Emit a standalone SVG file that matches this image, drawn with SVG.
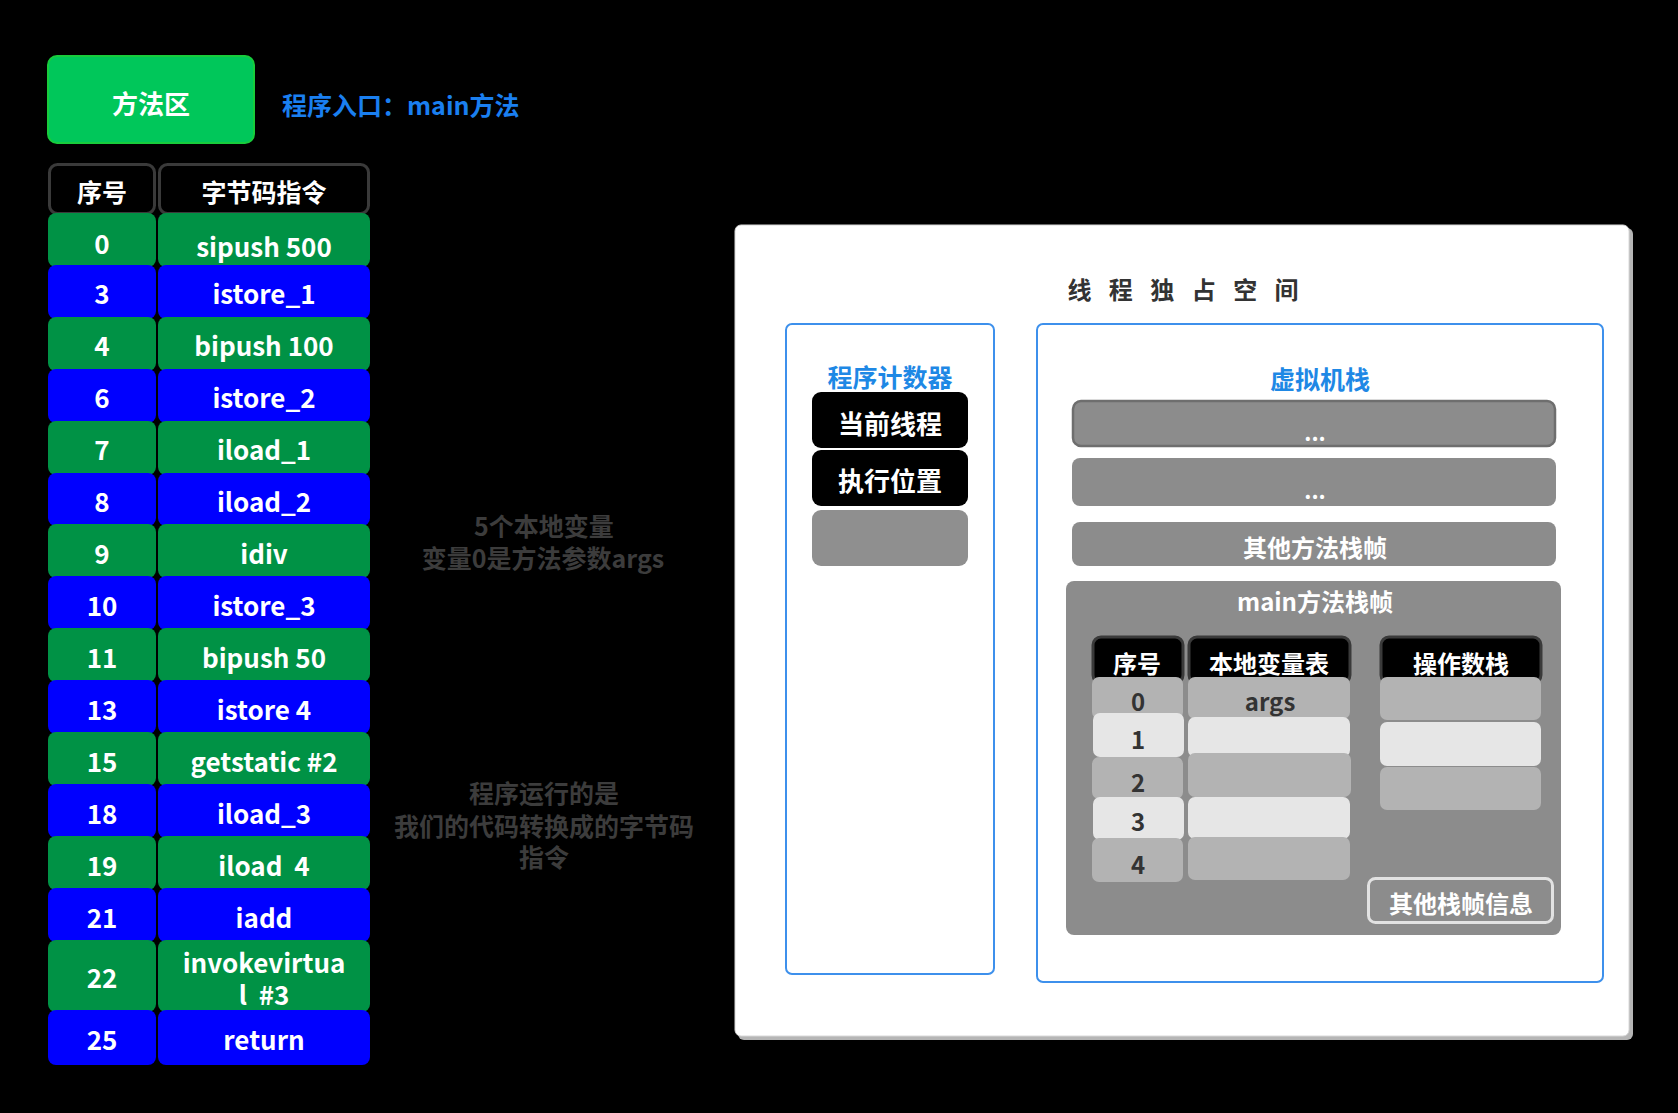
<svg xmlns="http://www.w3.org/2000/svg" width="1678" height="1113" viewBox="0 0 1678 1113">
<style>
.t{font-family:"Noto Sans CJK SC","Microsoft YaHei","Liberation Sans",sans-serif;font-weight:700;text-anchor:middle;dominant-baseline:central}
.w{fill:#ffffff}
.d{fill:#333333}
.tb{font-size:26px}
.g{fill:#009245}
.b{fill:#0000ff}
.hdr{fill:#000000;stroke:#3a3a3a;stroke-width:3}
.blue{fill:#1e88e5}
.frame{fill:#ffffff;stroke:#3d90ec;stroke-width:2}
.lg{fill:#b3b3b3}
.ll{fill:#e6e6e6}
.note{fill:#3c3c3c;font-size:25px}
</style>
<rect width="1678" height="1113" fill="#000"/>

<g id="method-area">
<rect x="48" y="56" width="206" height="87" rx="9" fill="#00c75a" stroke="#18cc3c" stroke-width="2"/>
<text class="t w" x="151" y="102" font-size="26">方法区</text>
</g>
<g id="entry-label">
<text class="t" x="282" y="104" font-size="25" fill="#1a7ff0" style="text-anchor:start">程序入口：main方法</text>
</g>

<g id="bytecode-table">
<g id="hdr-index"><rect class="hdr" x="49.5" y="164.5" width="105" height="49" rx="8"/><text class="t w" x="102" y="191" font-size="25">序号</text></g>
<g id="hdr-instr"><rect class="hdr" x="159.5" y="164.5" width="209" height="49" rx="8"/><text class="t w" x="264" y="191" font-size="25">字节码指令</text></g>

<g id="row-0"><rect class="g" x="48" y="213" width="108" height="54" rx="8"/><rect class="g" x="158" y="213" width="212" height="54" rx="8"/><text class="t w tb" x="102" y="242">0</text><text class="t w tb" x="264" y="245">sipush 500</text></g>
<g id="row-3"><rect class="b" x="48" y="265" width="108" height="54" rx="8"/><rect class="b" x="158" y="265" width="212" height="54" rx="8"/><text class="t w tb" x="102" y="292">3</text><text class="t w tb" x="264" y="292">istore_1</text></g>
<g id="row-4"><rect class="g" x="48" y="317" width="108" height="54" rx="8"/><rect class="g" x="158" y="317" width="212" height="54" rx="8"/><text class="t w tb" x="102" y="344">4</text><text class="t w tb" x="264" y="344">bipush 100</text></g>
<g id="row-6"><rect class="b" x="48" y="369" width="108" height="54" rx="8"/><rect class="b" x="158" y="369" width="212" height="54" rx="8"/><text class="t w tb" x="102" y="396">6</text><text class="t w tb" x="264" y="396">istore_2</text></g>
<g id="row-7"><rect class="g" x="48" y="421" width="108" height="54" rx="8"/><rect class="g" x="158" y="421" width="212" height="54" rx="8"/><text class="t w tb" x="102" y="448">7</text><text class="t w tb" x="264" y="448">iload_1</text></g>
<g id="row-8"><rect class="b" x="48" y="473" width="108" height="53" rx="8"/><rect class="b" x="158" y="473" width="212" height="53" rx="8"/><text class="t w tb" x="102" y="500">8</text><text class="t w tb" x="264" y="500">iload_2</text></g>
<g id="row-9"><rect class="g" x="48" y="524" width="108" height="54" rx="8"/><rect class="g" x="158" y="524" width="212" height="54" rx="8"/><text class="t w tb" x="102" y="552">9</text><text class="t w tb" x="264" y="552">idiv</text></g>
<g id="row-10"><rect class="b" x="48" y="576" width="108" height="54" rx="8"/><rect class="b" x="158" y="576" width="212" height="54" rx="8"/><text class="t w tb" x="102" y="604">10</text><text class="t w tb" x="264" y="604">istore_3</text></g>
<g id="row-11"><rect class="g" x="48" y="628" width="108" height="54" rx="8"/><rect class="g" x="158" y="628" width="212" height="54" rx="8"/><text class="t w tb" x="102" y="656">11</text><text class="t w tb" x="264" y="656">bipush 50</text></g>
<g id="row-13"><rect class="b" x="48" y="680" width="108" height="54" rx="8"/><rect class="b" x="158" y="680" width="212" height="54" rx="8"/><text class="t w tb" x="102" y="708">13</text><text class="t w tb" x="264" y="708">istore 4</text></g>
<g id="row-15"><rect class="g" x="48" y="732" width="108" height="54" rx="8"/><rect class="g" x="158" y="732" width="212" height="54" rx="8"/><text class="t w tb" x="102" y="760">15</text><text class="t w tb" x="264" y="760">getstatic #2</text></g>
<g id="row-18"><rect class="b" x="48" y="784" width="108" height="54" rx="8"/><rect class="b" x="158" y="784" width="212" height="54" rx="8"/><text class="t w tb" x="102" y="812">18</text><text class="t w tb" x="264" y="812">iload_3</text></g>
<g id="row-19"><rect class="g" x="48" y="836" width="108" height="54" rx="8"/><rect class="g" x="158" y="836" width="212" height="54" rx="8"/><text class="t w tb" x="102" y="864">19</text><text class="t w tb" x="264" y="864" xml:space="preserve">iload  4</text></g>
<g id="row-21"><rect class="b" x="48" y="888" width="108" height="54" rx="8"/><rect class="b" x="158" y="888" width="212" height="54" rx="8"/><text class="t w tb" x="102" y="916">21</text><text class="t w tb" x="264" y="916">iadd</text></g>
<g id="row-22"><rect class="g" x="48" y="940" width="108" height="72" rx="8"/><rect class="g" x="158" y="940" width="212" height="72" rx="8"/><text class="t w tb" x="102" y="976">22</text><text class="t w tb" x="264" y="961" xml:space="preserve"><tspan x="264" y="961">invokevirtua</tspan><tspan x="264" y="993">l  #3</tspan></text></g>
<g id="row-25"><rect class="b" x="48" y="1010" width="108" height="55" rx="8"/><rect class="b" x="158" y="1010" width="212" height="55" rx="8"/><text class="t w tb" x="102" y="1038">25</text><text class="t w tb" x="264" y="1038">return</text></g>
</g>

<g id="note-locals">
<text class="t note" x="544" y="525"><tspan x="544" y="525">5个本地变量</tspan><tspan x="543" y="557">变量0是方法参数args</tspan></text>
</g>
<g id="note-bytecode">
<text class="t note" x="544" y="792"><tspan x="544" y="792">程序运行的是</tspan><tspan x="544" y="825">我们的代码转换成的字节码</tspan><tspan x="544" y="856">指令</tspan></text>
</g>

<g id="thread-space">
<rect x="738" y="228" width="895" height="812" rx="6" fill="#b5b5b5"/>
<rect x="735" y="225" width="894" height="811" rx="6" fill="#ffffff" stroke="#d8d8d8" stroke-width="1"/>
<text class="t d" x="1186" y="288" font-size="24" style="letter-spacing:6px">线 程 独 占 空 间</text>
</g>

<g id="pc-register">
<rect class="frame" x="786" y="324" width="208" height="650" rx="6"/>
<text class="t blue" x="890" y="376" font-size="25">程序计数器</text>
<g id="pc-thread"><rect x="812" y="392" width="156" height="56" rx="9" fill="#000"/><text class="t w" x="890" y="422" font-size="26">当前线程</text></g>
<g id="pc-position"><rect x="812" y="450" width="156" height="56" rx="9" fill="#000"/><text class="t w" x="890" y="479" font-size="26">执行位置</text></g>
<g id="pc-empty"><rect x="812" y="510" width="156" height="56" rx="9" fill="#8f8f8f"/></g>
</g>

<g id="vm-stack">
<rect class="frame" x="1037" y="324" width="566" height="658" rx="6"/>
<text class="t blue" x="1320" y="378" font-size="25">虚拟机栈</text>
<g id="frame-dots-1"><rect x="1073" y="401" width="482" height="45" rx="8" fill="#8c8c8c" stroke="#6e6e6e" stroke-width="2.5"/><text class="t w" x="1315" y="431" font-size="22">...</text></g>
<g id="frame-dots-2"><rect x="1072" y="458" width="484" height="48" rx="8" fill="#8c8c8c"/><text class="t w" x="1315" y="489" font-size="22">...</text></g>
<g id="frame-other"><rect x="1072" y="522" width="484" height="44" rx="8" fill="#8c8c8c"/><text class="t w" x="1315" y="546" font-size="24">其他方法栈帧</text></g>
<g id="frame-main">
<rect x="1066" y="581" width="495" height="354" rx="8" fill="#8c8c8c"/>
<text class="t w" x="1315" y="600" font-size="24">main方法栈帧</text>
<g id="lv-hdr-index"><rect class="hdr" x="1093" y="637" width="90" height="46" rx="8"/><text class="t w" x="1137" y="662" font-size="24">序号</text></g>
<g id="lv-hdr-table"><rect class="hdr" x="1189" y="637" width="161" height="46" rx="8"/><text class="t w" x="1269" y="662" font-size="24">本地变量表</text></g>
<g id="os-hdr"><rect class="hdr" x="1381" y="637" width="160" height="46" rx="8"/><text class="t w" x="1461" y="662" font-size="24">操作数栈</text></g>

<g id="lv-0"><rect class="lg" x="1092" y="677" width="91" height="42" rx="7"/><rect class="lg" x="1188" y="677" width="162" height="42" rx="7"/><text class="t d" x="1138" y="700" font-size="24">0</text><text class="t d" x="1270" y="700" font-size="24">args</text></g>
<g id="lv-1"><rect class="ll" x="1093" y="713" width="91" height="44" rx="7"/><rect class="ll" x="1188" y="717" width="162" height="40" rx="7"/><text class="t d" x="1138" y="738" font-size="24">1</text></g>
<g id="lv-2"><rect class="lg" x="1092" y="757" width="91" height="42" rx="7"/><rect class="lg" x="1188" y="753" width="163" height="44" rx="7"/><text class="t d" x="1138" y="781" font-size="24">2</text></g>
<g id="lv-3"><rect class="ll" x="1093" y="797" width="91" height="43" rx="7"/><rect class="ll" x="1188" y="797" width="162" height="42" rx="7"/><text class="t d" x="1138" y="820" font-size="24">3</text></g>
<g id="lv-4"><rect class="lg" x="1092" y="838" width="91" height="44" rx="7"/><rect class="lg" x="1188" y="837" width="162" height="43" rx="7"/><text class="t d" x="1138" y="863" font-size="24">4</text></g>

<g id="os-0"><rect class="lg" x="1380" y="677" width="161" height="43" rx="7"/></g>
<g id="os-1"><rect class="ll" x="1380" y="722" width="161" height="44" rx="7"/></g>
<g id="os-2"><rect class="lg" x="1380" y="767" width="161" height="43" rx="7"/></g>

<g id="other-frame-info"><rect x="1368.5" y="878.5" width="184" height="44" rx="7" fill="#8c8c8c" stroke="#e2e2e2" stroke-width="3"/><text class="t w" x="1461" y="902" font-size="24">其他栈帧信息</text></g>
</g>
</g>

<g id="connectors"/>
</svg>
